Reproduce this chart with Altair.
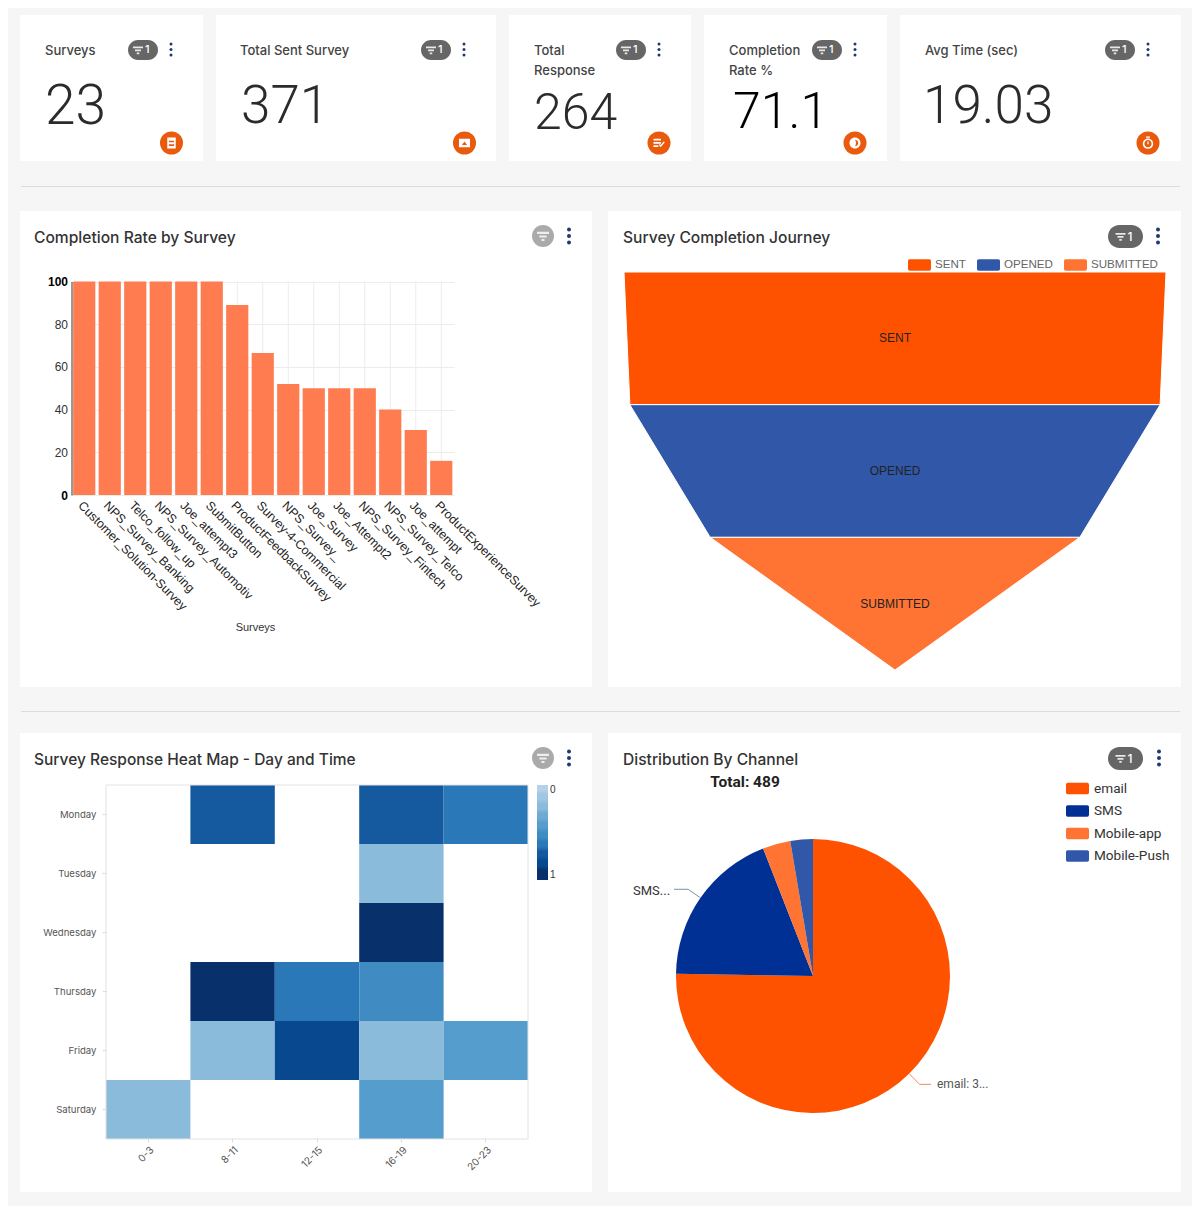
import math
import altair as alt
import pandas as pd

# ---------- data ----------
CARD_TITLES = [["Surveys"], ["Total Sent Survey"], ["Total", "Response"], ["Completion", "Rate %"], ["Avg Time (sec)"]]
CARD_VALUES = ["23", "371", "264", "71.1", "19.03"]

SURVEYS = ["Customer_Solution-Survey", "NPS_Survey_Banking", "Telco_follow_up", "NPS_Survey_Automotiv",
           "Joe_attempt3", "SubmitButton", "ProductFeedbackSurvey", "Survey-4-Commercial", "NPS_Survey_",
           "Joe_Survey", "Joe_Attempt2", "NPS_Survey_Fintech", "NPS_Survey_Telco", "Joe_attempt",
           "ProductExperienceSurvey"]
RATES = [100, 100, 100, 100, 100, 100, 89, 66.5, 52, 50, 50, 50, 40, 30.5, 16]

STAGES = ["SENT", "OPENED", "SUBMITTED"]
STAGE_VALUES = [371, 363, 253]

DAYS = ["Monday", "Tuesday", "Wednesday", "Thursday", "Friday", "Saturday"]
HOURS = ["0-3", "8-11", "12-15", "16-19", "20-23"]
CELL_DAY = ["Monday", "Monday", "Monday", "Tuesday", "Wednesday", "Thursday", "Thursday", "Thursday",
            "Friday", "Friday", "Friday", "Friday", "Saturday", "Saturday"]
CELL_HOUR = ["8-11", "16-19", "20-23", "16-19", "16-19", "8-11", "12-15", "16-19",
             "8-11", "12-15", "16-19", "20-23", "0-3", "16-19"]
CELL_VALUE = [0.75, 0.75, 0.65, 0.25, 0.95, 0.95, 0.65, 0.55, 0.25, 0.85, 0.25, 0.45, 0.25, 0.45]

CHANNELS = ["email", "SMS", "Mobile-app", "Mobile-Push"]
CHANNEL_COUNTS = [368, 92, 16, 13]

# ---------- style ----------
ORANGE, BLUE, ORANGE2, BLUE2, NAVY = "#ff5200", "#3158a8", "#ff7433", "#3158a8", "#003094"
BAR = "#ff7b50"
UI = "Inter"
ARIAL = "Liberation Sans"
BG = "#f6f6f6"
ONE = pd.DataFrame({"_": [0]})
HEAT_COLORS = ["#b5d2e8", "#9fc6e2", "#8bbbdb", "#6eaad4", "#549dcd", "#3f8bc2", "#2a78b8", "#15599e", "#08488e", "#08306b"]

FILTER_PATH = "M-1,-.7H1V-.35H-1Z M-.6,-.1H.6V.25H-.6Z M-.25,.5H.25V.85H-.25Z"
ICONS = [
    "M-.65,-.85H.65V.85H-.65Z M-.4,-.35V-.1H.4V-.35Z M-.4,.2V.45H.4V.2Z",
    "M-.85,-.65H.85V.65H-.85Z M-.4,.3H.4L0,-.25Z",
    "M-.85,-.65H.3V-.4H-.85Z M-.85,-.15H.3V.1H-.85Z M-.85,.35H-.1V.6H-.85Z M0,.3L.25,.65L.9,-.1L.72,-.25L.25,.3L.12,.15Z",
    "M0,-.85A.85,.85 0 1 1 0,.85A.85,.85 0 1 1 0,-.85Z M0,-.5A.5,.5 0 1 0 0,.5A.5,.5 0 1 0 0,-.5Z M0,-.5A.5,.5 0 0 0 0,.5A.9,.9 0 0 0 0,-.5Z",
    "M0,-.7A.8,.8 0 1 1 0,.9A.8,.8 0 1 1 0,-.7Z M0,-.45A.55,.55 0 1 0 0,.65A.55,.55 0 1 0 0,-.45Z M-.1,-.25H.1V.2H-.1Z M-.3,-1H.3V-.8H-.3Z",
]
ROUND_SWATCH = ("M-.85,-.5H.85Q1,-.5 1,-.35V.35Q1,.5 .85,.5H-.85Q-1,.5 -1,.35V-.35Q-1,-.5 -.85,-.5Z")


def txt(s, x, y, size, color="#333", weight=400, font=UI, align="left", **kw):
    return alt.Chart(ONE).mark_text(text=s, fontSize=size, color=color, fontWeight=weight, font=font,
                                    align=align, baseline="middle", **kw).encode(
        x=alt.value(x), y=alt.value(y))


def glyph(path, x, y, r, color):
    return alt.Chart(ONE).mark_point(shape=path, filled=True, size=(2 * r) ** 2, color=color, opacity=1,
                                     strokeWidth=0).encode(x=alt.value(x), y=alt.value(y))


def dot(x, y, d):
    return alt.Chart(ONE).mark_circle(size=d * d, color="#1f3a70", opacity=1).encode(
        x=alt.value(x), y=alt.value(y))


def kebab(x, yc, gap, d):
    return [dot(x, yc - gap, d), dot(x, yc, d), dot(x, yc + gap, d)]


def pill(x0, x1, y0, y1, fsize=12):
    h = y1 - y0
    rect = alt.Chart(ONE).mark_rect(color="#666666", cornerRadius=h / 2, opacity=1).encode(
        x=alt.value(x0), x2=alt.value(x1), y=alt.value(y0), y2=alt.value(y1))
    xc = (x0 + x1) / 2
    yc = (y0 + y1) / 2
    return [rect, glyph(FILTER_PATH, xc - 5, yc, 5, "#e8e8e8"),
            txt("1", xc + 2, yc, fsize, color="white", weight=500)]


# ---------- KPI cards ----------
CARD_W = [183, 280, 182, 183, 281]
CARD_H = 146
CARD_TX = [25, 24, 25, 25, 25]
CARD_PILL = [108, 205, 107, 108, 205]
CARD_DOTS = [151, 248, 150, 151, 248]
CARD_NX = [25, 25, 25, 29, 23]
CARD_NY = [92, 92, 99, 98, 92]
CARD_NS = [55, 53, 50, 50, 53]
CARD_NC = ["#2b2b2b", "#2b2b2b", "#2b2b2b", "#000000", "#2b2b2b"]
CARD_ICON = [151.5, 248.5, 150, 151, 248]

cards = []
for i in range(5):
    lines = CARD_TITLES[i]
    layers = [txt(l, CARD_TX[i], 36 + 20 * k, 13, color="#444", weight=500) for k, l in enumerate(lines)]
    layers.append(txt(CARD_VALUES[i], CARD_NX[i], CARD_NY[i], CARD_NS[i], color=CARD_NC[i], weight=300,
                      font="Roboto"))
    layers += pill(CARD_PILL[i], CARD_PILL[i] + 30, 25, 45, 11)
    layers += kebab(CARD_DOTS[i], 34.5, 5.5, 3)
    icon_bg = alt.Chart(ONE).mark_circle(size=23 * 23, color="#ea5a0c", opacity=1).encode(
        x=alt.value(CARD_ICON[i]), y=alt.value(128))
    layers += [icon_bg, glyph(ICONS[i], CARD_ICON[i], 128, 6.5, "white")]
    cards.append(alt.layer(*layers).properties(width=CARD_W[i], height=CARD_H,
                                               view=alt.ViewConfig(fill="white", stroke=None)))
row1 = alt.hconcat(*cards, spacing=13, bounds="flush")


def separator(h, y):
    return alt.Chart(ONE).mark_rule(color="#dcdcdc", strokeWidth=1).encode(
        x=alt.value(1), x2=alt.value(1160), y=alt.value(y)
    ).properties(width=1161, height=h, view=alt.ViewConfig(fill=None, stroke=None))


# ---------- bar panel ----------
PW1, PW2 = 572, 573
PH2, PH3 = 476, 459

bar_df = pd.DataFrame({"survey": SURVEYS, "rate": RATES})
bar_x = alt.Scale(domain=SURVEYS, range=[51.5, 434], paddingInner=0.13, paddingOuter=0.065)
bar_grid = alt.Chart(bar_df).mark_rule(color="#ececec", strokeWidth=1).encode(
    x=alt.X("survey:N", sort=None, scale=bar_x,
            axis=alt.Axis(title="Surveys", titleFont=ARIAL, titleFontSize=11, titleFontWeight="normal",
                          titleColor="#333", titleX=235, titleY=126,
                          offset=-192, labelAngle=45, labelAlign="left", labelBaseline="middle",
                          labelFont=ARIAL, labelFontSize=12.4, labelColor="#222", labelOverlap=False,
                          labelLimit=300, labelPadding=8, labelOffset=-4, ticks=False, domain=False, grid=False)),
    y=alt.value(70.5), y2=alt.value(284),
)
bars = alt.Chart(bar_df).mark_bar(color=BAR, opacity=1).encode(
    x=alt.X("survey:N", sort=None, scale=bar_x, title="Surveys"),
    y=alt.Y("rate:Q", scale=alt.Scale(domain=[0, 100], range=[284, 70.5], nice=False),
            axis=alt.Axis(title=None, offset=-51.5, values=[0, 20, 40, 60, 80, 100], ticks=False,
                          labelFont=ARIAL, labelFontSize=12, labelPadding=4,
                          labelColor={"condition": {"test": "datum.value==0||datum.value==100", "value": "#000"},
                                      "value": "#333"},
                          labelFontWeight={"condition": {"test": "datum.value==0||datum.value==100", "value": "bold"},
                                           "value": "normal"},
                          domainColor="#333", grid=True, gridColor="#ececec")),
)
bar_panel = alt.layer(
    bar_grid, bars,
    txt("Completion Rate by Survey", 14, 27, 15.6, weight=500),
    alt.Chart(ONE).mark_circle(size=22 * 22, color="#aaaaaa", opacity=1).encode(x=alt.value(523), y=alt.value(25)),
    glyph(FILTER_PATH, 523, 25, 6, "#eeeeee"),
    *kebab(549, 25, 6.5, 4),
).properties(width=PW1, height=PH2, view=alt.ViewConfig(fill="white", stroke=None))

# ---------- funnel panel ----------
rows = []
for i, s in enumerate(STAGES):
    top = STAGE_VALUES[i]
    bottom = STAGE_VALUES[i + 1] if i + 1 < len(STAGE_VALUES) else 0
    rows.append({"stage": s, "pos": i, "lo": -top / 2, "hi": top / 2})
    rows.append({"stage": s, "pos": i + 1, "lo": -bottom / 2, "hi": bottom / 2})
funnel_df = pd.DataFrame(rows)
fx = alt.Scale(domain=[-371 / 2, 371 / 2], range=[16, 558], nice=False, zero=False)
fy = alt.Scale(domain=[0, 3], range=[61, 459], nice=False)
funnel = alt.Chart(funnel_df).mark_area(orient="horizontal", stroke="white", strokeWidth=1, opacity=1).encode(
    y=alt.Y("pos:Q", scale=fy, axis=None),
    x=alt.X("lo:Q", scale=fx, axis=None),
    x2="hi:Q",
    color=alt.Color("stage:N", scale=alt.Scale(domain=STAGES, range=[ORANGE, BLUE, ORANGE2]),
                    legend=alt.Legend(title=None, orient="none", legendX=300, legendY=42, direction="horizontal",
                                      symbolType=ROUND_SWATCH, symbolSize=23 * 23, symbolStrokeWidth=0,
                                      symbolOpacity=1, labelFont=ARIAL, labelFontSize=11.6, labelColor="#666",
                                      labelOffset=4, columnPadding=11)),
)
funnel_labels = alt.Chart(pd.DataFrame({"stage": STAGES, "mid": [i + 0.5 for i in range(3)], "zero": [0, 0, 0]})
                          ).mark_text(font=ARIAL, fontSize=12, color="#222").encode(
    x=alt.X("zero:Q", scale=fx, axis=None), y=alt.Y("mid:Q", scale=fy, axis=None), text="stage:N")
funnel_panel = alt.layer(
    funnel, funnel_labels,
    txt("Survey Completion Journey", 15, 27, 15.6, weight=500),
    *pill(500, 535, 14, 37),
    *kebab(550, 25, 6.5, 4),
).properties(width=PW2, height=PH2, view=alt.ViewConfig(fill="white", stroke=None))

# ---------- heat map panel ----------
heat_df = pd.DataFrame({"day": CELL_DAY, "hour": CELL_HOUR, "v": CELL_VALUE})
heat_domain, heat_range = [], []
for k in range(9, -1, -1):
    heat_domain += [round((k + 1) / 10, 1), round(k / 10, 1)]
    heat_range += [HEAT_COLORS[k], HEAT_COLORS[k]]
heat = alt.Chart(heat_df).mark_rect(opacity=1).encode(
    x=alt.X("hour:N", sort=None, scale=alt.Scale(domain=HOURS, range=[86, 508], paddingInner=0, paddingOuter=0),
            axis=alt.Axis(title=None, offset=-54, labelAngle=-45, labelAlign="right", labelBaseline="middle",
                          labelFont=UI, labelFontSize=10, labelColor="#555", tickSize=4, tickColor="#dddddd",
                          domain=False, grid=False, labelPadding=6, labelOffset=4)),
    y=alt.Y("day:N", sort=None, scale=alt.Scale(domain=DAYS, range=[52, 406], paddingInner=0, paddingOuter=0),
            axis=alt.Axis(title=None, offset=-86, labelFont=UI, labelFontSize=9.6, labelColor="#555", tickSize=4,
                          tickColor="#dddddd", domain=False, grid=False, labelPadding=6)),
    color=alt.Color("v:Q", scale=alt.Scale(domain=heat_domain, range=heat_range),
                    legend=alt.Legend(title=None, orient="none", legendX=517, legendY=52, gradientLength=95,
                                      gradientThickness=11, values=[0, 1], format="d", labelFont=ARIAL, labelFontSize=10,
                                      labelColor="#333", gradientStrokeWidth=0)),
)
frame = alt.Chart(ONE).mark_rect(filled=False, stroke="#e2e2e2", strokeWidth=1).encode(
    x=alt.value(86), x2=alt.value(508), y=alt.value(52), y2=alt.value(406))
heat_panel = alt.layer(
    heat, frame,
    txt("Survey Response Heat Map - Day and Time", 14, 27, 15.5, weight=500),
    alt.Chart(ONE).mark_circle(size=22 * 22, color="#aaaaaa", opacity=1).encode(x=alt.value(523), y=alt.value(25)),
    glyph(FILTER_PATH, 523, 25, 6, "#eeeeee"),
    *kebab(549, 25, 6.5, 4),
).properties(width=PW1, height=PH3, view=alt.ViewConfig(fill="white", stroke=None))

# ---------- pie panel ----------
CX, CY, R = 205, 243, 137
pie_df = pd.DataFrame({"channel": CHANNELS, "count": CHANNEL_COUNTS, "idx": range(4)})
pie = alt.Chart(pie_df).mark_arc(outerRadius=R, opacity=1).encode(
    x=alt.value(CX), y=alt.value(CY),
    theta=alt.Theta("count:Q", stack=True),
    order=alt.Order("idx:Q"),
    color=alt.Color("channel:N", scale=alt.Scale(domain=CHANNELS, range=[ORANGE, NAVY, ORANGE2, BLUE2]),
                    legend=alt.Legend(title=None, orient="none", legendX=458, legendY=44, symbolType=ROUND_SWATCH,
                                      symbolSize=23 * 23, symbolStrokeWidth=0, symbolOpacity=1, labelFont="Roboto",
                                      labelFontSize=13.6, labelColor="#333", labelOffset=5, rowPadding=3.5)),
)


def mid_angle(i):
    total = sum(CHANNEL_COUNTS)
    return 2 * math.pi * (sum(CHANNEL_COUNTS[:i]) + CHANNEL_COUNTS[i] / 2) / total


def leader(i, r2, end_x, color):
    a = mid_angle(i)
    p0 = (CX + R * math.sin(a), CY - R * math.cos(a))
    p1 = (CX + r2 * math.sin(a), CY - r2 * math.cos(a))
    df = pd.DataFrame({"px": [p0[0], p1[0], end_x], "py": [p0[1], p1[1], p1[1]], "o": [0, 1, 2]})
    return alt.Chart(df).mark_line(color=color, strokeWidth=1).encode(
        x=alt.X("px:Q", scale=None), y=alt.Y("py:Q", scale=None), order="o:Q")


pie_panel = alt.layer(
    pie,
    leader(0, 152, 323, "#f08a60"), leader(1, 152, 66, "#7f8fa8"),
    txt("email: 3...", 329, 351, 12, color="#555", font="Roboto"),
    txt("SMS...", 25, 158, 13, color="#333", font="Roboto"),
    txt("Distribution By Channel", 15, 27, 15.6, weight=500),
    txt("Total: 489", 137, 49, 15.5, color="#222", weight=700, font="Roboto", align="center"),
    *pill(500, 535, 14, 37),
    *kebab(551, 25, 6.5, 4),
).properties(width=PW2, height=PH3, view=alt.ViewConfig(fill="white", stroke=None))

row2 = alt.hconcat(bar_panel, funnel_panel, spacing=16, bounds="flush").resolve_scale(color="independent").resolve_legend(color="independent")
row3 = alt.hconcat(heat_panel, pie_panel, spacing=16, bounds="flush").resolve_scale(color="independent").resolve_legend(color="independent")

chart = alt.vconcat(row1, separator(8, 4.5), row2, separator(4, 3.5), row3, spacing=21).resolve_scale(
    color="independent").resolve_legend(color="independent").properties(
    background=BG, padding={"left": 12, "top": 7, "right": 11, "bottom": 14}
).configure_view(stroke=None)

chart.save("out.html", embed_options={"renderer": "svg", "actions": False})
